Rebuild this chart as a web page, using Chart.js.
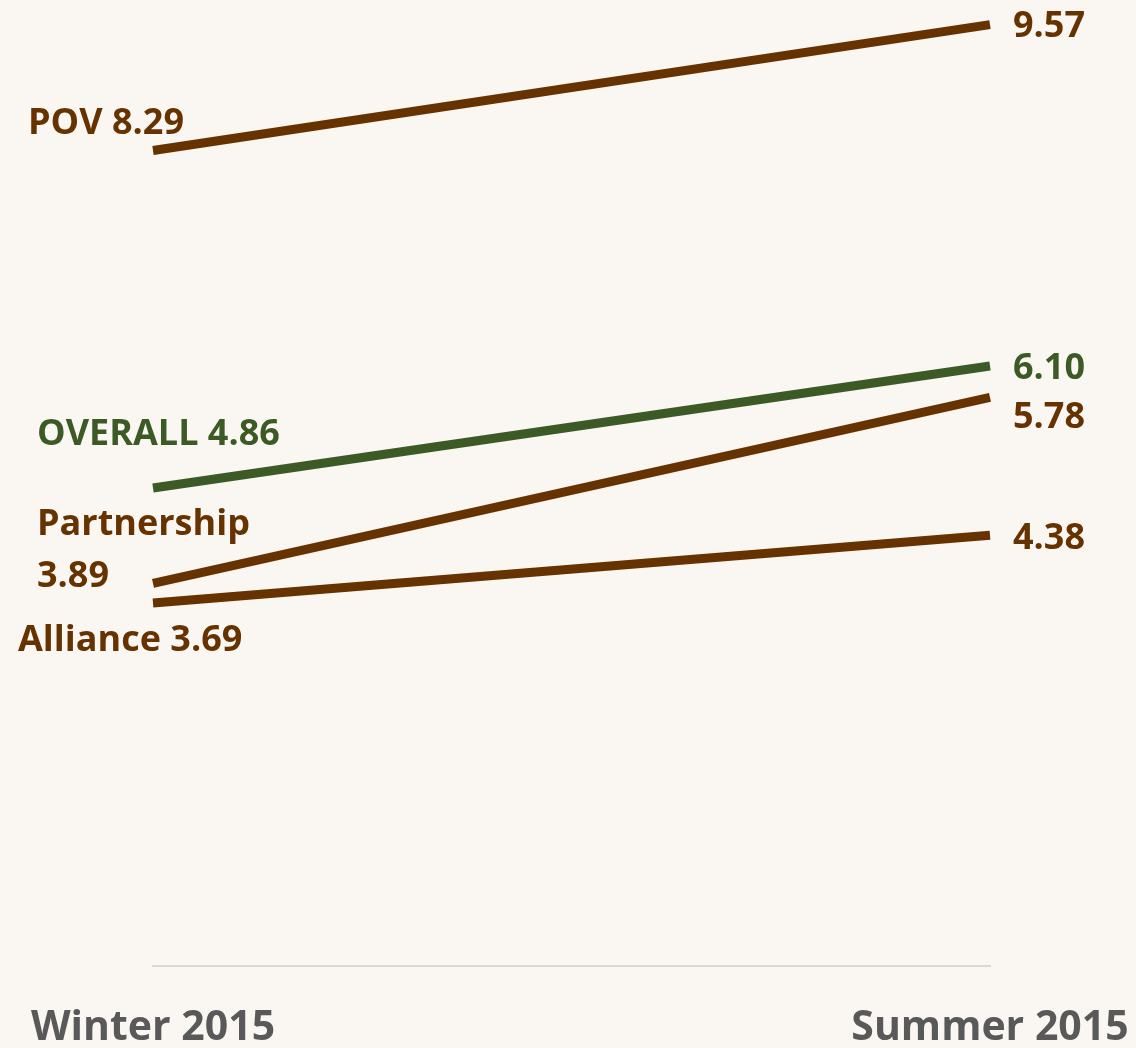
<!DOCTYPE html>
<html>
<head>
<meta charset="utf-8">
<script src="https://cdn.jsdelivr.net/npm/chart.js@4/dist/chart.umd.min.js"></script>
<style>
  html, body { margin: 0; padding: 0; background: #faf7f2; }
  #wrap { width: 1136px; height: 1048px; }
</style>
</head>
<body>
<div id="wrap"><canvas id="slope" width="1136" height="1048"></canvas></div>
<script>
const periods = ['Winter 2015', 'Summer 2015'];
const seriesNames = ['POV', 'OVERALL', 'Partnership', 'Alliance'];
const povValues = [8.29, 9.57];
const overallValues = [4.86, 6.10];
const partnershipValues = [3.89, 5.78];
const allianceValues = [3.69, 4.38];

const BROWN = '#663300';
const GREEN = '#3c5a26';

// where each label sits, relative to its point (left-x offset, baseline offset)
const leftLabelPos = [
  { dx: -125, dy: -17 },
  { dx: -116, dy: -43 },
  { dx: -116, dy: -48, second: 4 },
  { dx: -135, dy: 48 }
];
const rightLabelPos = [
  { dx: 23, dy: 12 },
  { dx: 23, dy: 13 },
  { dx: 23, dy: 31 },
  { dx: 23, dy: 14 }
];

const slopeLabels = {
  id: 'slopeLabels',
  afterDatasetsDraw(chart) {
    const ctx = chart.ctx;
    ctx.save();
    ctx.font = 'bold 36px "Open Sans"';
    ctx.textBaseline = 'alphabetic';
    ctx.textAlign = 'left';
    chart.data.datasets.forEach((ds, i) => {
      const pts = chart.getDatasetMeta(i).data;
      ctx.fillStyle = ds.borderColor;
      const lp = leftLabelPos[i];
      const first = ds.data[0].toFixed(2);
      if (lp.second !== undefined) {
        ctx.fillText(ds.label, pts[0].x + lp.dx, pts[0].y + lp.dy);
        ctx.fillText(first, pts[0].x + lp.dx, pts[0].y + lp.second);
      } else {
        ctx.fillText(ds.label + ' ' + first, pts[0].x + lp.dx, pts[0].y + lp.dy);
      }
      const rp = rightLabelPos[i];
      ctx.fillText(ds.data[1].toFixed(2), pts[1].x + rp.dx, pts[1].y + rp.dy);
    });
    ctx.restore();
  }
};

const mk = (name, values, color) => ({
  label: name,
  data: values,
  borderColor: color,
  backgroundColor: color,
  borderWidth: 9,
  borderCapStyle: 'butt',
  pointRadius: 0,
  tension: 0,
  fill: false
});

new Chart('slope', {
  type: 'line',
  data: {
    labels: periods,
    datasets: [
      mk(seriesNames[0], povValues, BROWN),
      mk(seriesNames[1], overallValues, GREEN),
      mk(seriesNames[2], partnershipValues, BROWN),
      mk(seriesNames[3], allianceValues, BROWN)
    ]
  },
  options: {
    responsive: false,
    animation: false,
    layout: { padding: { left: 153, right: 146, top: 2, bottom: 0 } },
    plugins: {
      legend: { display: false },
      tooltip: { enabled: false }
    },
    scales: {
      x: {
        offset: false,
        grid: { display: false, drawTicks: false },
        border: { display: true, color: '#d9d9d9', width: 2 },
        ticks: {
          color: '#595959',
          font: { family: 'Open Sans', size: 41, weight: 'bold' },
          maxRotation: 0,
          autoSkip: false,
          padding: 38
        },
        afterFit(scale) {
          scale.height = 82;
          scale.paddingLeft = 0;
          scale.paddingRight = 0;
        }
      },
      y: {
        display: false,
        min: 0,
        max: 9.8
      }
    }
  },
  plugins: [slopeLabels]
});
</script>
</body>
</html>
